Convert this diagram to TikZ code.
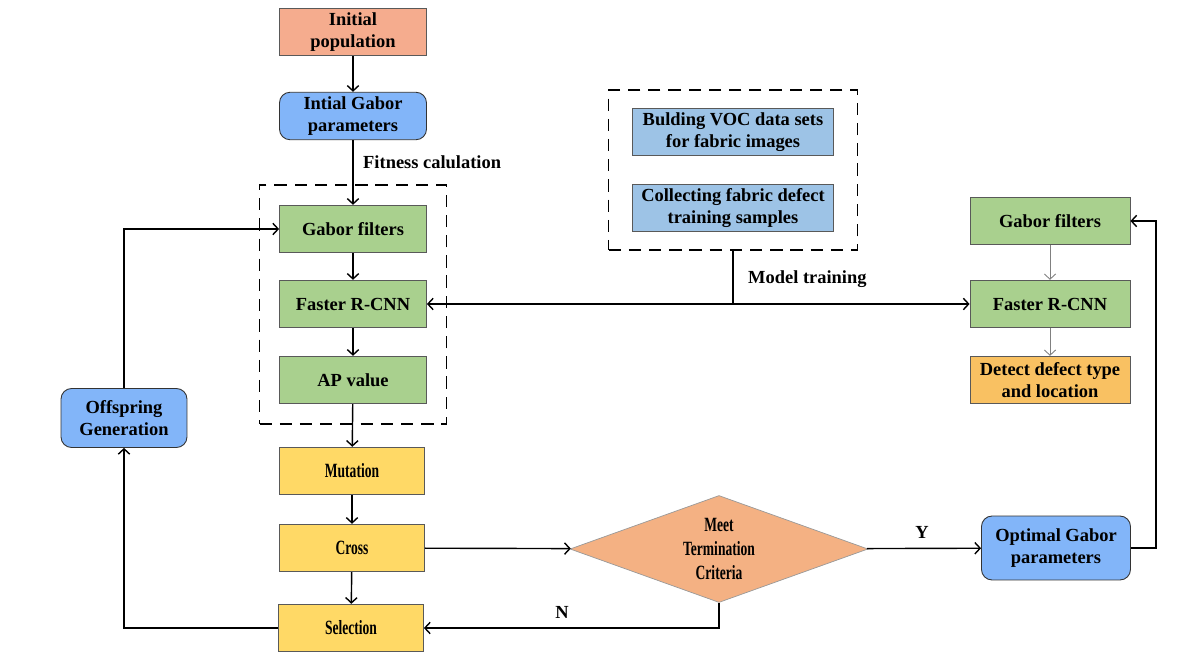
\documentclass[tikz,border=0pt]{standalone}
\usepackage{fontspec}
\setmainfont{Liberation Serif}
\newfontfamily\narrowfont[FakeStretch=0.67]{Liberation Serif}
\usepackage{xcolor}
\usepackage{tikz}
\usetikzlibrary{shapes,arrows,arrows.meta,positioning,fit,calc}

\definecolor{salmon}{HTML}{F5AC8E}
\definecolor{skyblue}{HTML}{82B5F9}
\definecolor{leafgreen}{HTML}{A9D08E}
\definecolor{paleblue}{HTML}{9DC3E6}
\definecolor{sunyellow}{HTML}{FFD966}
\definecolor{peach}{HTML}{F4B183}
\definecolor{amber}{HTML}{F9C162}

\begin{document}
\begin{tikzpicture}[x=0.02cm,y=-0.02cm,
    >={Straight Barb[length=3pt,width=6.5pt]},
    box/.style={draw=black!65, line width=0.5pt, minimum width=2.94cm, minimum height=0.95cm,
        align=center, inner sep=2pt, font=\fontsize{10.5}{12.5}\selectfont\bfseries},
    greenbox/.style={box, fill=leafgreen},
    bluebox/.style={box, fill=skyblue, rounded corners=6pt, draw=black!80},
    yellowbox/.style={box, fill=sunyellow, minimum width=2.9cm,
        font=\fontsize{11.5}{13}\narrowfont\bfseries},
    dashbox/.style={draw, dashed, dash pattern=on 7pt off 4.5pt, line width=0.8pt},
    line/.style={draw, line width=0.8pt},
    thin/.style={draw=black!50, line width=0.5pt},
    lbl/.style={font=\fontsize{10.5}{12.5}\selectfont\bfseries}
]
    \useasboundingbox (0,0) rectangle (1177,669);

    % left column
    \node[box, fill=salmon] (init) at (353,32) {Initial\\population};
    \node[bluebox] (igabor) at (353,116) {Intial Gabor\\parameters};
    \node[greenbox] (gabor) at (353,229) {Gabor filters};
    \node[greenbox] (frcnn) at (353,304) {Faster R-CNN};
    \node[greenbox] (apval) at (353,380) {AP value};
    \node[yellowbox] (mutation) at (352,471) {Mutation};
    \node[yellowbox] (cross) at (352,548) {Cross};
    \node[yellowbox] (selection) at (351,628) {Selection};
    \node[bluebox, minimum width=2.52cm, minimum height=1.18cm] (offspring) at (124,418) {Offspring\\Generation};
    \node[dashbox, fit=(gabor)(apval), inner xsep=0.39cm, inner ysep=0.4cm] (fitbox) {};

    % decision
    \node[diamond, draw=black!40, fill=peach, aspect=2.785, inner sep=0pt,
        minimum width=5.96cm, minimum height=2.14cm, align=center,
        font=\fontsize{11.5}{13.5}\narrowfont\bfseries] (meet) at (719,549) {Meet\\Termination\\Criteria};
    \node[bluebox, minimum width=2.98cm, minimum height=1.28cm] (optimal) at (1056,548) {Optimal Gabor\\parameters};

    % training data
    \node[box, fill=paleblue, minimum width=4.02cm] (voc) at (733,132) {Bulding VOC data sets\\for fabric images};
    \node[box, fill=paleblue, minimum width=4.02cm] (collect) at (733,208) {Collecting fabric defect\\training samples};
    \node[dashbox, fit=(voc)(collect), inner xsep=0.47cm, inner ysep=0.36cm] (databox) {};

    % right column
    \node[greenbox, minimum width=3.2cm] (rgabor) at (1050,221) {Gabor filters};
    \node[greenbox, minimum width=3.2cm] (rfrcnn) at (1050,304) {Faster R-CNN};
    \node[box, fill=amber, minimum width=3.2cm] (detect) at (1050,380) {Detect defect type\\and location};

    % labels
    \node[lbl, anchor=west] (fitlbl) at (357,162) {Fitness calulation};
    \node[lbl, anchor=west] (trainlbl) at (742,279) {Model training};
    \node[lbl] (ylbl) at (922,532) {Y};
    \node[lbl] (nlbl) at (562,612) {N};

    % connectors
    \draw[line, ->] (init) -- (igabor);
    \draw[line, ->] (igabor) -- (gabor);
    \draw[line, ->] (gabor) -- (frcnn);
    \draw[line, ->] (frcnn) -- (apval);
    \draw[line, ->] (apval) -- (mutation);
    \draw[line, ->] (mutation) -- (cross);
    \draw[line, ->] (cross) -- (selection);
    \draw[line, ->] (cross) -- (meet);
    \draw[line, ->] (meet) -- (optimal);
    \draw[line, ->] (meet.south) |- (selection.east);
    \draw[line, ->] (selection.west) -| (offspring.south);
    \draw[line, ->] (offspring.north) |- (gabor.west);
    \draw[line, ->] (optimal.east) -- ++(25,0) |- (rgabor.east);
    \draw[line, <->] (frcnn.east) -- (rfrcnn.west);
    \draw[line] (databox.south) -- (databox.south |- frcnn.east);
    \draw[thin, ->] (rgabor) -- (rfrcnn);
    \draw[thin, ->] (rfrcnn) -- (detect);
\end{tikzpicture}
\end{document}
